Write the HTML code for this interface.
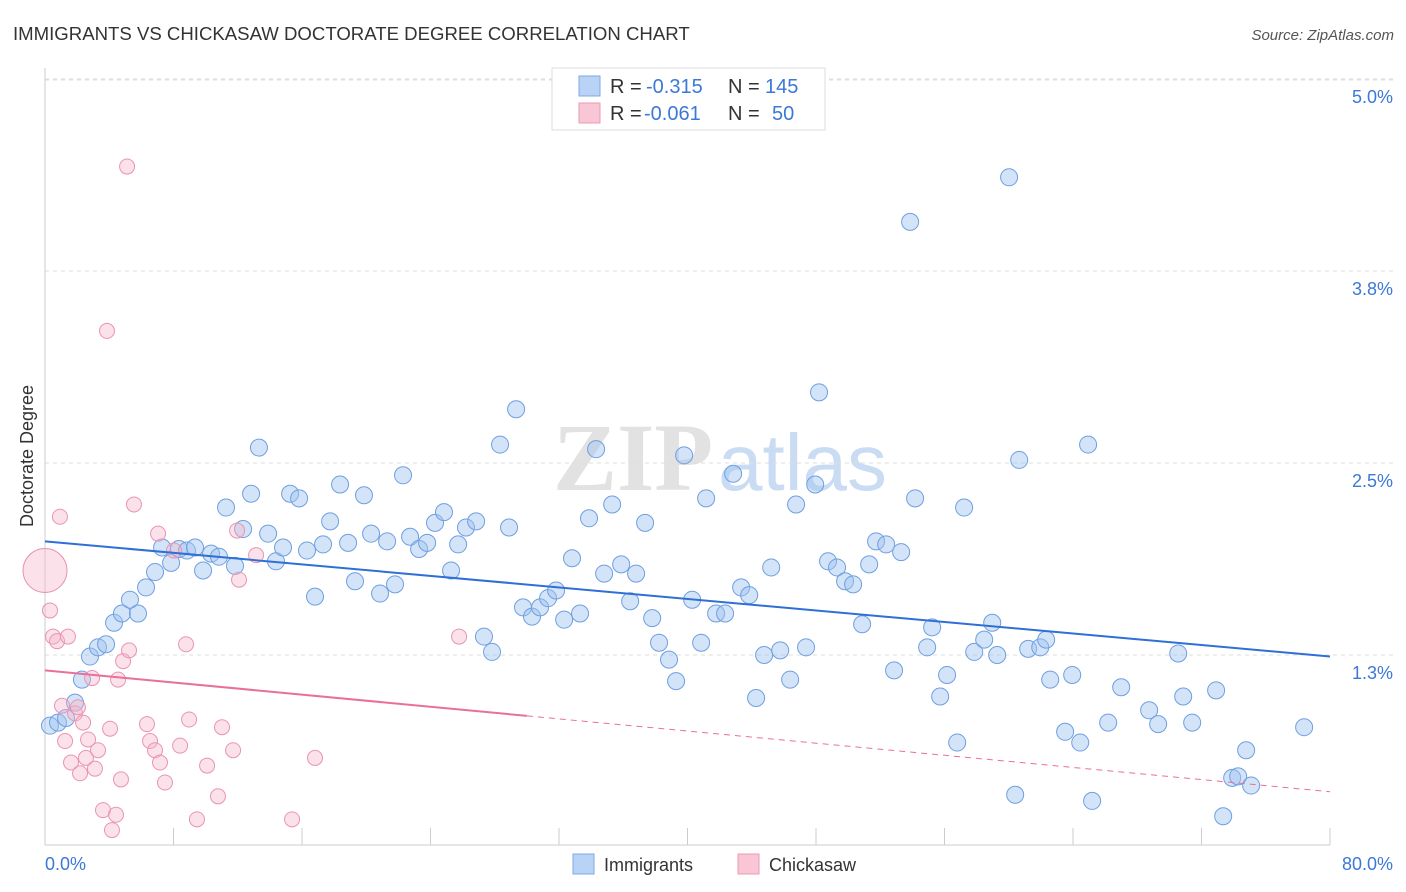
<!DOCTYPE html>
<html><head><meta charset="utf-8"><style>
body{margin:0;background:#fff;font-family:"Liberation Sans",sans-serif}
svg{display:block}
</style></head><body>
<svg id="chart" width="1406" height="892" xmlns="http://www.w3.org/2000/svg">
<text x="13" y="40" font-size="18.6" fill="#333">IMMIGRANTS VS CHICKASAW DOCTORATE DEGREE CORRELATION CHART</text>
<text x="1394" y="40" font-size="15" fill="#555" font-style="italic" text-anchor="end">Source: ZipAtlas.com</text>
<g><text x="553" y="490" font-size="96" font-family="Liberation Serif" fill="#e2e2e2" font-weight="bold">ZIP</text><text x="718" y="490" font-size="80" fill="#c9dcf3">atlas</text></g>
<g id="grid"></g>
<text transform="translate(33,456) rotate(-90)" font-size="18" fill="#333" text-anchor="middle">Doctorate Degree</text>
<g id="plot"></g>
<g>
<rect x="552" y="68" width="273" height="62" fill="#fff" stroke="#ddd"/>
<rect x="579" y="76" width="21" height="20" fill="#b8d3f5" stroke="#7ea9e3"/>
<rect x="579" y="103" width="21" height="20" fill="#f8c6d5" stroke="#ec9ab5"/>
<text x="610" y="93" font-size="20" fill="#333">R =</text>
<text x="646" y="93" font-size="20" fill="#3b78d8">-0.315</text>
<text x="728" y="93" font-size="20" fill="#333">N =</text>
<text x="765" y="93" font-size="20" fill="#3b78d8">145</text>
<text x="610" y="120" font-size="20" fill="#333">R =</text>
<text x="644" y="120" font-size="20" fill="#3b78d8">-0.061</text>
<text x="728" y="120" font-size="20" fill="#333">N =</text>
<text x="772" y="120" font-size="20" fill="#3b78d8">50</text>
</g>
<g>
<rect x="573" y="854" width="21" height="20" fill="#b8d3f5" stroke="#7ea9e3"/>
<text x="604" y="871" font-size="18" fill="#333">Immigrants</text>
<rect x="738" y="854" width="21" height="20" fill="#f8c6d5" stroke="#ec9ab5"/>
<text x="769" y="871" font-size="18" fill="#333">Chickasaw</text>
</g>
</svg>
<script>
const yTicks=[1.25,2.5,3.75,5.0];
const yTickLabels=["1.3%","2.5%","3.8%","5.0%"];
const xTicks=[0,8,16,24,32,40,48,56,64,72,80];
const blueX=[0.31,0.81,1.31,1.87,2.30,2.80,3.30,3.80,4.30,4.79,5.29,5.79,6.29,6.85,7.29,7.85,8.34,8.84,9.34,9.84,10.34,10.83,11.27,11.83,12.33,12.83,13.32,13.89,14.38,14.82,15.26,15.82,16.31,16.81,17.31,17.75,18.37,18.87,19.30,19.86,20.30,20.86,21.30,21.79,22.29,22.73,23.29,23.79,24.28,24.84,25.28,25.72,26.21,26.84,27.33,27.83,28.33,28.89,29.33,29.76,30.32,30.82,31.32,31.82,32.32,32.81,33.31,33.87,34.31,34.81,35.31,35.87,36.43,36.80,37.36,37.80,38.23,38.85,39.29,39.79,40.29,40.85,41.16,41.78,42.34,42.84,43.34,43.84,44.27,44.77,45.21,45.77,46.39,46.76,47.38,47.95,48.19,48.75,49.31,49.81,50.31,50.87,51.31,51.74,52.37,52.86,53.30,53.86,54.17,54.92,55.23,55.73,56.16,56.79,57.22,57.85,58.47,58.97,59.28,60.02,60.40,60.65,61.21,61.96,62.33,62.58,63.51,63.95,64.45,64.94,65.19,66.19,67.00,68.74,69.30,70.55,70.86,71.42,72.91,73.35,73.91,74.28,74.78,75.09,78.39];
const blueY=[0.79,0.81,0.84,0.94,1.09,1.24,1.30,1.32,1.46,1.52,1.61,1.52,1.69,1.79,1.95,1.85,1.94,1.93,1.95,1.80,1.91,1.89,2.21,1.83,2.07,2.30,2.60,2.04,1.86,1.95,2.30,2.27,1.93,1.63,1.97,2.12,2.36,1.98,1.73,2.29,2.04,1.65,1.99,1.71,2.42,2.02,1.94,1.98,2.11,2.18,1.80,1.97,2.08,2.12,1.37,1.27,2.62,2.08,2.85,1.56,1.50,1.56,1.62,1.67,1.48,1.88,1.52,2.14,2.59,1.78,2.23,1.84,1.60,1.78,2.11,1.49,1.33,1.22,1.08,2.55,1.61,1.33,2.27,1.52,1.52,2.43,1.69,1.64,0.97,1.25,1.82,1.28,1.09,2.23,1.30,2.36,2.96,1.86,1.82,1.73,1.71,1.45,1.84,1.99,1.97,1.15,1.92,4.07,2.27,1.30,1.43,0.98,1.12,0.68,2.21,1.27,1.35,1.46,1.25,4.36,0.34,2.52,1.29,1.30,1.35,1.09,0.75,1.12,0.68,2.62,0.30,0.81,1.04,0.89,0.80,1.26,0.98,0.81,1.02,0.20,0.45,0.46,0.63,0.40,0.78];
const pinkX=[0.31,0.50,0.75,0.93,1.06,1.25,1.43,1.62,1.87,2.05,2.18,2.37,2.55,2.68,2.93,3.11,3.30,3.61,3.86,4.05,4.17,4.42,4.55,4.73,4.86,5.11,5.23,5.54,6.35,6.54,6.85,7.04,7.16,7.47,8.03,8.41,8.78,8.97,9.46,10.09,10.77,11.02,11.71,11.96,12.08,13.14,15.38,16.81,25.78];
const pinkY=[1.54,1.37,1.34,2.15,0.92,0.69,1.37,0.55,0.87,0.91,0.48,0.81,0.58,0.70,1.10,0.51,0.63,0.24,3.36,0.77,0.11,0.21,1.09,0.44,1.21,4.43,1.28,2.23,0.80,0.69,0.63,2.04,0.55,0.42,1.93,0.66,1.32,0.83,0.18,0.53,0.33,0.78,0.63,2.06,1.74,1.90,0.18,0.58,1.37];
const pinkBigX=[0],pinkBigY=[1.80];
const blueTrend=[1.99,1.24];
const pinkTrend=[1.15,0.36];
const pinkSolidEnd=30;
const NS="http://www.w3.org/2000/svg";
const X0=45,X1=1330,Y0=847,PXPER=153.6;
function sx(v){return X0+(X1-X0)*v/80;}
function sy(v){return Y0-v*PXPER;}
function mk(tag,attrs,parent){const e=document.createElementNS(NS,tag);for(const k in attrs)e.setAttribute(k,attrs[k]);parent.appendChild(e);return e;}
const grid=document.getElementById('grid'),plot=document.getElementById('plot');
mk('line',{x1:45,y1:68,x2:45,y2:845,stroke:'#ccc'},grid);
mk('line',{x1:45,y1:845,x2:1330,y2:845,stroke:'#ccc'},grid);
const topLine=mk('line',{x1:45,y1:80,x2:1394,y2:80,stroke:'#ddd','stroke-dasharray':'4,4'},grid);


yTicks.forEach((t,i)=>{
 const l=mk('line',{x1:45,y1:sy(t),x2:1394,y2:sy(t),stroke:'#ddd','stroke-dasharray':'4,4'},grid);
 
 
 const tx=mk('text',{x:1393,y:sy(t)+24,'font-size':18,fill:'#3b78d8','text-anchor':'end'},grid);
 tx.textContent=yTickLabels[i];
 
 
});
xTicks.forEach(t=>{
 const l=mk('line',{x1:sx(t),y1:828,x2:sx(t),y2:845,stroke:'#ccc'},grid);
 
 
});
const xl=mk('text',{x:45,y:870,'font-size':18,fill:'#3b78d8'},grid);xl.textContent='0.0%';


const xr=mk('text',{x:1393,y:870,'font-size':18,fill:'#3b78d8','text-anchor':'end'},grid);xr.textContent='80.0%';


blueX.forEach((x,i)=>{
 const c=mk('circle',{cx:sx(x),cy:sy(blueY[i]),r:8.5,fill:'rgba(160,195,240,0.45)',stroke:'#6e9fe0','stroke-width':1},plot);
 
 
});
pinkX.forEach((x,i)=>{
 const c=mk('circle',{cx:sx(x),cy:sy(pinkY[i]),r:7.5,fill:'rgba(245,180,200,0.4)',stroke:'#e994b3','stroke-width':1},plot);
 
 
});
pinkBigX.forEach((x,i)=>{
 const c=mk('circle',{cx:sx(x),cy:sy(pinkBigY[i]),r:22,fill:'rgba(245,180,200,0.4)',stroke:'#e994b3','stroke-width':1},plot);
 
 
});
const bt=mk('line',{x1:sx(0),y1:sy(blueTrend[0]),x2:sx(80),y2:sy(blueTrend[1]),stroke:'#2f6fd6','stroke-width':2},plot);


const pm=pinkTrend[0]+(pinkTrend[1]-pinkTrend[0])*pinkSolidEnd/80;
const pt=mk('line',{x1:sx(0),y1:sy(pinkTrend[0]),x2:sx(pinkSolidEnd),y2:sy(pm),stroke:'#e8709a','stroke-width':2},plot);


const pd=mk('line',{x1:sx(pinkSolidEnd),y1:sy(pm),x2:sx(80),y2:sy(pinkTrend[1]),stroke:'#e8709a','stroke-width':1,'stroke-dasharray':'6,5'},plot);


</script>
</body></html>
